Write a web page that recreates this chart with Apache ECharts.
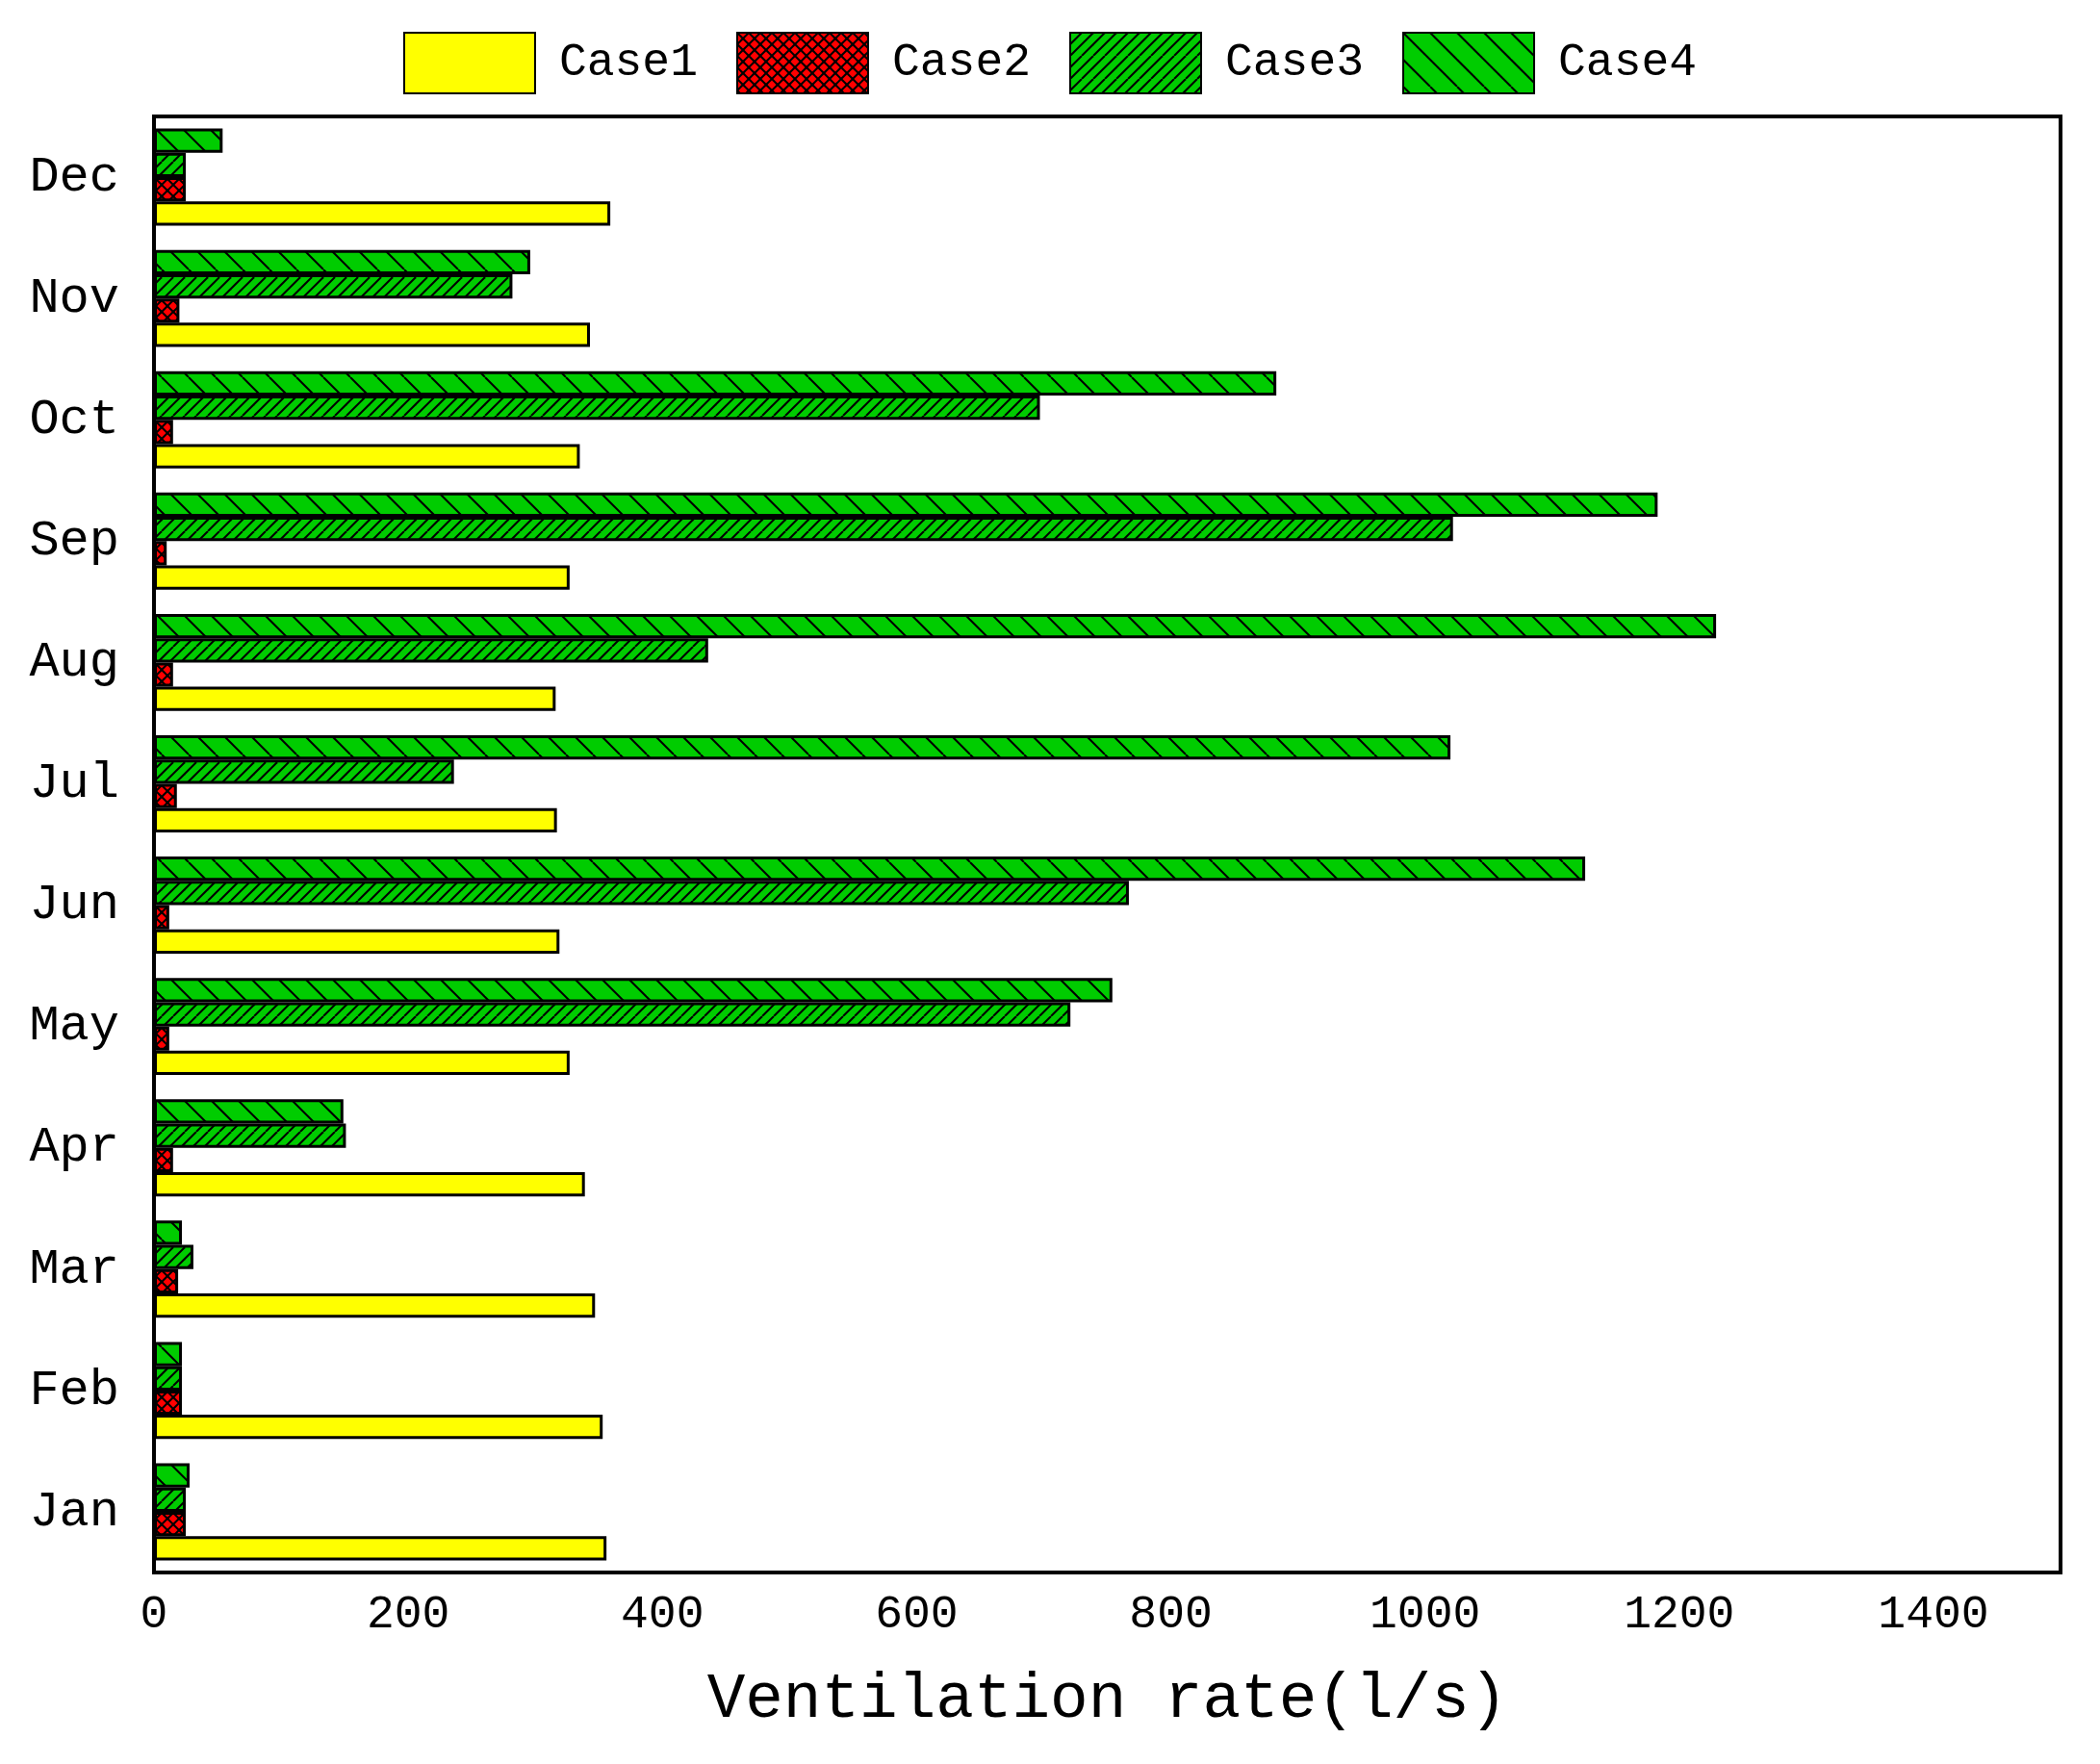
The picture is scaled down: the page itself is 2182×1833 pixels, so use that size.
<!DOCTYPE html><html><head><meta charset="utf-8">
<script src="https://cdn.jsdelivr.net/npm/echarts@6/dist/echarts.min.js"></script>
<style>body{margin:0}#c{width:2182px;height:1833px;background:#fff}</style></head><body><div id="c"></div>
<script>
const months=['Jan','Feb','Mar','Apr','May','Jun','Jul','Aug','Sep','Oct','Nov','Dec'];
const seriesNames=['Case1','Case2','Case3','Case4'];
const case1=[356,353,347,339,327,319,317,316,327,335,343,359];
const case2=[25,22,19,15,12,12,18,15,10,15,20,25];
const case3=[25,22,31,151,721,767,236,436,1022,697,282,25];
const case4=[28,22,22,149,754,1126,1020,1229,1183,883,296,54];
function pat(bg,kind,s){
  const c=document.createElement('canvas');c.width=c.height=s;const g=c.getContext('2d');
  g.fillStyle=bg;g.fillRect(0,0,s,s);g.strokeStyle='#000';g.lineWidth=2;
  const draw=(dir)=>{for(let k=-s;k<=2*s;k+=s/2){g.beginPath();if(dir>0){g.moveTo(k,s);g.lineTo(k+s,0);}else{g.moveTo(k,0);g.lineTo(k+s,s);}g.stroke();}};
  if(kind==='x'){draw(1);draw(-1);}else if(kind==='f')draw(1);else if(kind==='b')draw(-1);
  return {image:c,repeat:'repeat'};
}
const font='Liberation Mono';
const colors=['#ffff00',pat('#ff0000','x',24),pat('#00cc00','f',24),pat('#00cc00','b',56)];
const data=[case1,case2,case3,case4];
const chart=echarts.init(document.getElementById('c'));
const order=[3,2,1,0];
chart.setOption({
  animation:false,
  textStyle:{fontFamily:font,color:'#000'},
  legend:{top:28,left:'center',icon:'rect',itemWidth:136,itemHeight:63,itemGap:40,
    textStyle:{fontSize:48,fontFamily:font,color:'#000',fontWeight:'normal',padding:[0,0,0,20]},data:seriesNames},
  grid:{left:160,right:41,top:121,bottom:199,show:true,borderColor:'#000',borderWidth:4},
  xAxis:{type:'value',min:0,max:1500,interval:200,
    name:'Ventilation rate(l/s)',nameLocation:'middle',nameGap:100,
    nameTextStyle:{fontSize:66,fontFamily:font,color:'#000'},
    axisLine:{show:false},axisTick:{inside:true,length:12,lineStyle:{color:'#000',width:3}},
    axisLabel:{fontSize:48,color:'#000',margin:20,fontFamily:font,formatter:v=>v>1400?'':v},
    splitLine:{show:false}},
  yAxis:{type:'category',data:months,axisLine:{show:false},axisTick:{show:false},
    axisLabel:{fontSize:52,color:'#000',margin:36,fontFamily:font}},
  series:order.map(i=>({name:seriesNames[i],type:'bar',data:data[i],barGap:'0%',barCategoryGap:'20%',
    itemStyle:{color:colors[i],borderColor:'#000',borderWidth:3}}))
});
</script></body></html>
